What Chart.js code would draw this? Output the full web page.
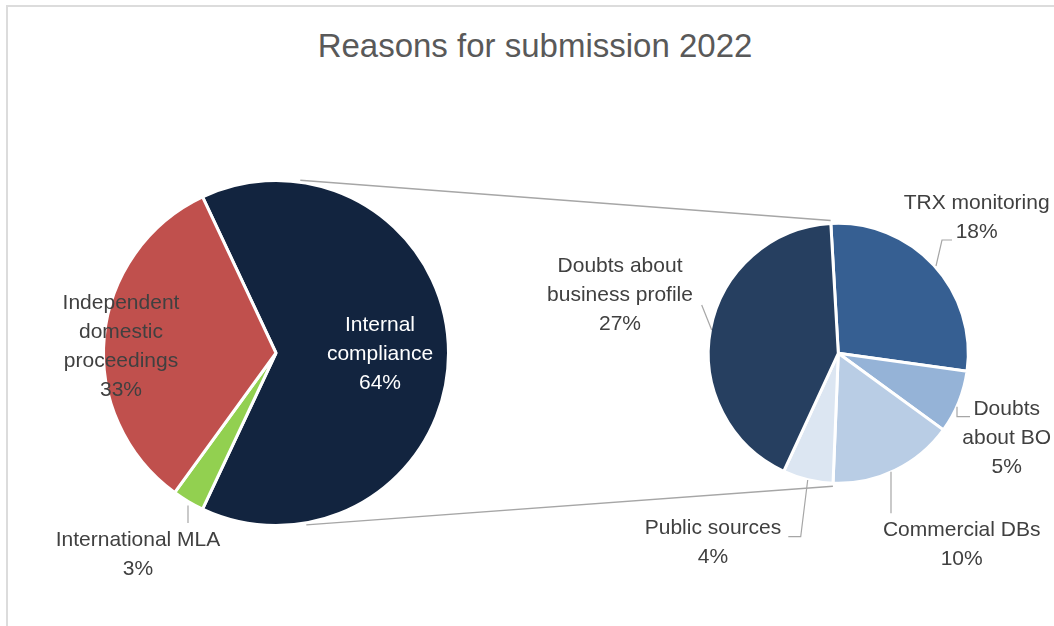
<!DOCTYPE html>
<html>
<head>
<meta charset="utf-8">
<script src="https://cdn.jsdelivr.net/npm/chart.js@4.4.1/dist/chart.umd.min.js"></script>
<style>
  html, body { margin: 0; padding: 0; background: #ffffff; }
  #wrap { position: relative; width: 1054px; height: 626px; overflow: hidden; background: #ffffff; }
  #frame { position: absolute; left: 6px; top: 5px; width: 1100px; height: 700px;
           border-left: 2px solid #dcdcdc; border-top: 2px solid #dcdcdc; box-sizing: border-box; }
  #title { position: absolute; left: 0; width: 1070px; top: 27px; text-align: center;
           font-family: "Liberation Sans", Arial, sans-serif; font-size: 33px; color: #595959; }
  canvas { position: absolute; left: 0; top: 0; }
</style>
</head>
<body>
<div id="wrap">
  <div id="frame"></div>
  <div id="title">Reasons for submission 2022</div>
  <canvas id="mainPie" width="1054" height="626"></canvas>
  <canvas id="detailPie" width="1054" height="626"></canvas>
</div>
<script>
// Main pie: share of all submissions (percent)
const mainCategories = [['Internal', 'compliance'], ['International MLA'], ['Independent', 'domestic', 'proceedings']];
const mainValues = [64, 3, 33];
const mainColors = ['#12243f', '#92d050', '#c0504d'];

// Breakdown of "Internal compliance" (percent of all submissions)
const detailCategories = [['TRX monitoring'], ['Doubts', 'about BO'], ['Commercial DBs'], ['Public sources'], ['Doubts about', 'business profile']];
const detailValues = [18, 5, 10, 4, 27];
const detailColors = ['#365f92', '#95b3d7', '#b9cde5', '#dce6f2', '#263f60'];

const grandTotal = mainValues.reduce((a, b) => a + b, 0);
const FONT = '21px "Liberation Sans", Arial, sans-serif';
const LINE_H = 29;

// Label blocks and leader lines, as offsets from each pie's centre
const mainLabelLayout = [
  { dx: 104, dy: 1, color: '#ffffff' },
  { dx: -138, dy: 201.5, color: '#404040', leader: [[-88, 152.5], [-88, 170]] },
  { dx: -155, dy: -6, color: '#404040' }
];
const detailLabelLayout = [
  { dx: 138.4, dy: -136, color: '#404040', leader: [[113.7, -113.3], [103.7, -113.3], [97.7, -87.3]] },
  { dx: 168.4, dy: 85, color: '#404040', leader: [[118.7, 53.4], [118.7, 63.4], [131.7, 63.4]] },
  { dx: 123.4, dy: 191, color: '#404040', leader: [[52.7, 118.4], [52.7, 160]] },
  { dx: -125.3, dy: 189, color: '#404040', leader: [[-30.6, 126.7], [-37.6, 183.4], [-50, 183.4]] },
  { dx: -218.3, dy: -58, color: '#404040', leader: [[-136.6, -48.3], [-126.6, -23.3]] }
];

const sliceLabels = {
  id: 'sliceLabels',
  afterDatasetsDraw(chart, args, opts) {
    const ctx = chart.ctx;
    const meta = chart.getDatasetMeta(0);
    const values = chart.data.datasets[0].data;
    ctx.save();
    meta.data.forEach((arc, i) => {
      const lay = opts.layout[i];
      if (!lay) return;
      const cx = arc.x, cy = arc.y;
      if (lay.leader) {
        ctx.beginPath();
        ctx.strokeStyle = '#a6a6a6';
        ctx.lineWidth = 1.2;
        lay.leader.forEach((p, k) => {
          if (k === 0) ctx.moveTo(cx + p[0], cy + p[1]);
          else ctx.lineTo(cx + p[0], cy + p[1]);
        });
        ctx.stroke();
      }
      const name = chart.data.labels[i];
      const lines = (Array.isArray(name) ? name.slice() : [name]);
      lines.push(Math.round(values[i] / grandTotal * 100) + '%');
      ctx.font = FONT;
      ctx.fillStyle = lay.color;
      ctx.textAlign = 'center';
      ctx.textBaseline = 'middle';
      const n = lines.length;
      lines.forEach((t, k) => {
        ctx.fillText(t, cx + lay.dx, cy + lay.dy + (k - (n - 1) / 2) * LINE_H);
      });
    });
    ctx.restore();
  }
};

// Rotate the main pie so the broken-out slice faces the breakdown pie
const mainRotation = 90 - (mainValues[0] / grandTotal) * 180;

const mainChart = new Chart(document.getElementById('mainPie'), {
  type: 'pie',
  data: {
    labels: mainCategories,
    datasets: [{ data: mainValues, backgroundColor: mainColors, borderColor: '#ffffff', borderWidth: 3 }]
  },
  options: {
    responsive: false,
    devicePixelRatio: 1,
    animation: false,
    rotation: mainRotation,
    radius: 172.5,
    layout: { padding: { left: 105, right: 607, top: 182, bottom: 102 } },
    plugins: {
      legend: { display: false },
      tooltip: { enabled: false },
      sliceLabels: { layout: mainLabelLayout }
    }
  },
  plugins: [sliceLabels]
});

// Connector lines between the two pies
const connectors = {
  id: 'connectors',
  beforeDatasetsDraw(chart) {
    const src = mainChart.getDatasetMeta(0).data[0];
    const arcs = chart.getDatasetMeta(0).data;
    const dst = arcs[0];
    const toRad = d => (d - 90) * Math.PI / 180;
    const rs = src.outerRadius + 2;
    const rd = dst.outerRadius + 3;
    const p1 = [src.x + rs * Math.cos(toRad(8)), src.y + rs * Math.sin(toRad(8))];
    const p2 = [src.x + rs * Math.cos(toRad(170)), src.y + rs * Math.sin(toRad(170))];
    const q1 = [dst.x + rd * Math.cos(arcs[0].startAngle), dst.y + rd * Math.sin(arcs[0].startAngle)];
    const q2 = [dst.x + rd * Math.cos(arcs[2].endAngle), dst.y + rd * Math.sin(arcs[2].endAngle)];
    const ctx = chart.ctx;
    ctx.save();
    ctx.strokeStyle = '#a6a6a6';
    ctx.lineWidth = 1.4;
    ctx.beginPath();
    ctx.moveTo(p1[0], p1[1]); ctx.lineTo(q1[0], q1[1]);
    ctx.moveTo(p2[0], p2[1]); ctx.lineTo(q2[0], q2[1]);
    ctx.stroke();
    ctx.restore();
  }
};

const detailChart = new Chart(document.getElementById('detailPie'), {
  type: 'pie',
  data: {
    labels: detailCategories,
    datasets: [{ data: detailValues, backgroundColor: detailColors, borderColor: '#ffffff', borderWidth: 3 }]
  },
  options: {
    responsive: false,
    devicePixelRatio: 1,
    animation: false,
    rotation: -3.3,
    radius: 130,
    layout: { padding: { left: 710, right: 87.4, top: 225, bottom: 144.4 } },
    plugins: {
      legend: { display: false },
      tooltip: { enabled: false },
      sliceLabels: { layout: detailLabelLayout }
    }
  },
  plugins: [connectors, sliceLabels]
});
</script>
</body>
</html>
